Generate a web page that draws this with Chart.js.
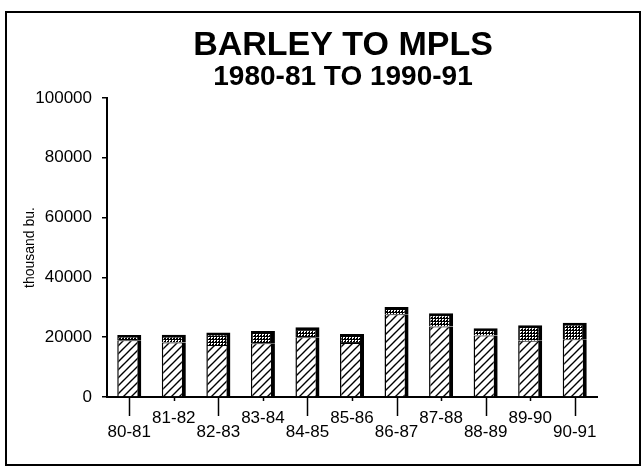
<!DOCTYPE html>
<html><head><meta charset="utf-8">
<script src="https://cdn.jsdelivr.net/npm/chart.js@4"></script>
<style>
html,body{margin:0;padding:0;background:#fff;width:641px;height:470px;overflow:hidden;}
#frame{position:absolute;left:5px;top:11px;width:636px;height:455px;border:2px solid #000;box-sizing:border-box;}
#wrap{position:absolute;left:0;top:0;width:667px;height:470px;}
</style></head><body>
<div id="frame"></div>
<div id="wrap"><canvas id="c" width="667" height="470"></canvas></div>
<script>
const categories = ['80-81','81-82','82-83','83-84','84-85','85-86','86-87','87-88','88-89','89-90','90-91'];
const hatchedValues = [19000, 18200, 17400, 18000, 20000, 18100, 27700, 23600, 20600, 18800, 19300];
const dottedValues  = [1700, 2600, 4200, 4100, 3300, 3000, 2400, 4400, 2400, 5200, 5500];
const yTickValues = [0, 20000, 40000, 60000, 80000, 100000];

const canvas = document.getElementById('c');
const ctx0 = canvas.getContext('2d');

function hatchPattern(){
  const c = document.createElement('canvas'); c.width = 8; c.height = 8;
  const x = c.getContext('2d');
  x.fillStyle = '#fff'; x.fillRect(0,0,8,8);
  x.strokeStyle = '#000'; x.lineWidth = 1.4;
  x.beginPath();
  x.moveTo(-1,9); x.lineTo(9,-1);
  x.moveTo(-1,1); x.lineTo(1,-1);
  x.moveTo(7,9); x.lineTo(9,7);
  x.stroke();
  return ctx0.createPattern(c,'repeat');
}
function dotPattern(){
  const c = document.createElement('canvas'); c.width = 3; c.height = 3;
  const x = c.getContext('2d');
  x.fillStyle = '#000'; x.fillRect(0,0,3,3);
  x.fillStyle = '#fff'; x.fillRect(1,1,2,1); x.fillRect(1,2,1,1);
  return ctx0.createPattern(c,'repeat');
}

const xLabels = categories.map((c,i) => i % 2 === 0 ? ['', c] : [c]);

const xTickPlugin = {
  id: 'xticks',
  afterDraw(chart){
    const s = chart.scales.x, ctx = chart.ctx, y0 = s.top;
    ctx.save(); ctx.strokeStyle = '#000'; ctx.lineWidth = 1.5;
    s.ticks.forEach((t,i) => {
      const x = Math.round(s.getPixelForTick(i)) + 0.5;
      ctx.beginPath(); ctx.moveTo(x, y0); ctx.lineTo(x, y0 + (i % 2 === 0 ? 19 : 4)); ctx.stroke();
    });
    ctx.restore();
  }
};

Chart.defaults.color = '#000';
Chart.defaults.font.family = "'Liberation Sans', Arial, sans-serif";

new Chart(canvas, {
  type: 'bar',
  data: {
    labels: xLabels,
    datasets: [
      { label: 'hatched', data: hatchedValues, backgroundColor: hatchPattern(), borderColor: '#000',
        borderWidth: {left: 1.5, right: 4, top: 1, bottom: 0}, borderSkipped: 'start' },
      { label: 'dotted', data: dottedValues, backgroundColor: dotPattern(), borderColor: '#000',
        borderWidth: {left: 1.5, right: 4, top: 3, bottom: 0}, borderSkipped: 'start' }
    ]
  },
  options: {
    responsive: false,
    animation: false,
    events: [],
    layout: { padding: { left: 19, right: 0, top: 0, bottom: 24 } },
    datasets: { bar: { categoryPercentage: 1, barPercentage: 0.54 } },
    plugins: {
      legend: { display: false },
      tooltip: { enabled: false },
      title: { display: true, text: 'BARLEY TO MPLS', color: '#000',
        font: { size: 34, weight: 'bold', lineHeight: 1 }, padding: { top: 29, bottom: 0 } },
      subtitle: { display: true, text: '1980-81 TO 1990-91', color: '#000',
        font: { size: 28, weight: 'bold', lineHeight: 1 }, padding: { top: 0, bottom: 7 } }
    },
    scales: {
      x: {
        stacked: true,
        grid: { display: true, drawOnChartArea: false, offset: false, tickLength: 7, tickColor: 'rgba(0,0,0,0)' },
        border: { display: true, color: '#000', width: 2 },
        ticks: { padding: 7, maxRotation: 0, autoSkip: false,
          font: { size: 17, lineHeight: '14px' } }
      },
      y: {
        stacked: true,
        min: 0, max: 100000,
        afterBuildTicks: s => { s.ticks = yTickValues.map(v => ({ value: v })); },
        afterFit: s => { s.width = 88; },
        grid: { display: true, drawOnChartArea: false, tickLength: 5, color: '#000', lineWidth: 1.5 },
        border: { display: true, color: '#000', width: 2 },
        ticks: { padding: 10, font: { size: 17 }, callback: v => String(v) },
        title: { display: true, text: 'thousand bu.', font: { size: 14, lineHeight: 1 }, padding: { top: 4, bottom: 0 } }
      },
      y2: {
        position: 'right', display: true,
        grid: { display: false }, border: { display: false },
        ticks: { display: false },
        afterFit: s => { s.width = 70; }
      }
    }
  },
  plugins: [xTickPlugin]
});
</script>
</body></html>
